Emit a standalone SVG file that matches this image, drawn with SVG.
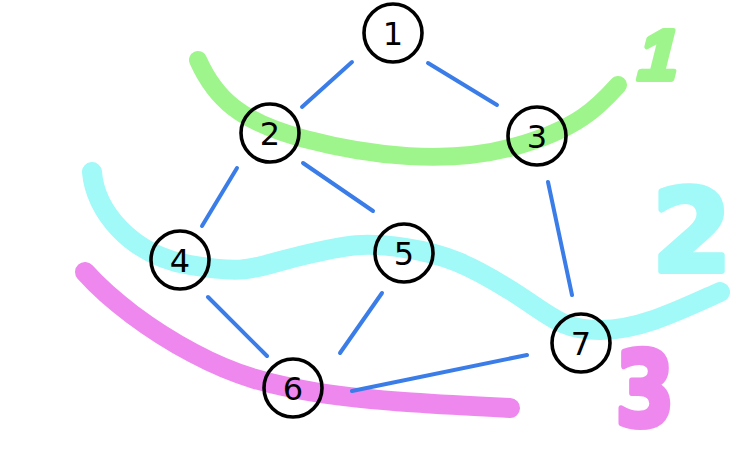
<svg xmlns="http://www.w3.org/2000/svg" width="750" height="453" viewBox="0 0 750 453">
<style>
.hl{fill:none;stroke-linecap:round;stroke-linejoin:round}
.g{stroke:#9ef58b}
.c{stroke:#a1f9f8}
.p{stroke:#ee88ee}
.edge{stroke:#3b7de8;stroke-width:4;stroke-linecap:round}
.node circle{fill:none;stroke:#000;stroke-width:3.6}
.node text{font-family:"DejaVu Sans",sans-serif;font-size:32px;fill:#000;text-anchor:middle}
.big{font-family:"DejaVu Sans",sans-serif;font-weight:bold;text-anchor:middle;stroke-width:6;stroke-linejoin:round}
</style>
<rect width="750" height="453" fill="#fff"/>
<g id="layers">
<path class="hl g" stroke-width="18" d="M198,60 C215,98 240,122 305,139 S447,165 513,147 S600,105 618,85"/>
<path class="hl c" stroke-width="20" d="M92,172 C95,210 130,255 190,265 S250,268 300,256 S365,242 405,248 S470,265 510,290 S560,330 600,330 S680,310 720,292"/>
<path class="hl p" stroke-width="20" d="M85,272 C110,300 150,330 193,353 S270,385 320,393 S450,405 510,408"/>
</g>
<g id="labels">
<text class="big" fill="#9ef58b" stroke="#9ef58b" font-size="70" transform="translate(654,79) skewX(-14)" style="font-family:'Liberation Sans',sans-serif">1</text>
<text class="big" fill="#a1f9f8" stroke="#a1f9f8" font-size="114" x="692" y="271">2</text>
<text class="big" fill="#ee88ee" stroke="#ee88ee" font-size="104" transform="translate(645,426) scale(0.82,1)">3</text>
</g>
<g id="connectors">
<line class="edge" x1="352" y1="62" x2="302" y2="107"/>
<line class="edge" x1="428" y1="63" x2="497" y2="105"/>
<line class="edge" x1="237" y1="168" x2="202" y2="226"/>
<line class="edge" x1="303" y1="163" x2="373" y2="211"/>
<line class="edge" x1="548" y1="182" x2="572" y2="295"/>
<line class="edge" x1="208" y1="297" x2="267" y2="356"/>
<line class="edge" x1="382" y1="293" x2="340" y2="353"/>
<line class="edge" x1="352" y1="391" x2="527" y2="355"/>
</g>
<g id="node1" class="node"><circle cx="393" cy="33" r="29"/><text x="393" y="45">1</text></g>
<g id="node2" class="node"><circle cx="270" cy="133" r="29"/><text x="270" y="145">2</text></g>
<g id="node3" class="node"><circle cx="537" cy="136" r="29"/><text x="537" y="148">3</text></g>
<g id="node4" class="node"><circle cx="180" cy="260" r="29"/><text x="180" y="272">4</text></g>
<g id="node5" class="node"><circle cx="404" cy="253" r="29"/><text x="404" y="265">5</text></g>
<g id="node6" class="node"><circle cx="293" cy="388" r="29"/><text x="293" y="400">6</text></g>
<g id="node7" class="node"><circle cx="581" cy="343" r="29"/><text x="581" y="355">7</text></g>
</svg>
